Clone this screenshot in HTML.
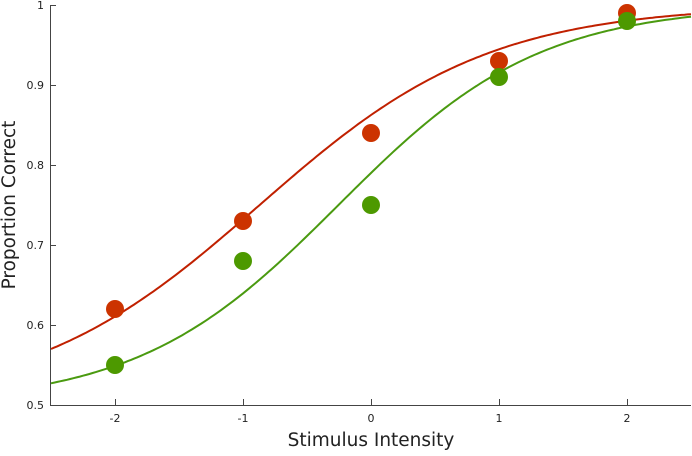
<!DOCTYPE html>
<html><head><meta charset="utf-8"><style>
html,body{margin:0;padding:0;background:#fff;}
svg text{font-family:"DejaVu Sans","Liberation Sans",sans-serif;fill:#222;}
</style></head><body>
<svg id="s" width="692" height="451" xmlns="http://www.w3.org/2000/svg">
<g stroke="#444" stroke-width="1" fill="none">
<line x1="50.5" y1="5" x2="50.5" y2="405.5"/>
<line x1="50" y1="405.5" x2="691" y2="405.5"/>
<line x1="50" y1="5.5" x2="56" y2="5.5"/>
<line x1="50" y1="85.5" x2="56" y2="85.5"/>
<line x1="50" y1="165.5" x2="56" y2="165.5"/>
<line x1="50" y1="245.5" x2="56" y2="245.5"/>
<line x1="50" y1="325.5" x2="56" y2="325.5"/>
<line x1="115.5" y1="405" x2="115.5" y2="399"/>
<line x1="243.5" y1="405" x2="243.5" y2="399"/>
<line x1="371.5" y1="405" x2="371.5" y2="399"/>
<line x1="499.5" y1="405" x2="499.5" y2="399"/>
<line x1="627.5" y1="405" x2="627.5" y2="399"/>
</g>
<g font-size="11" text-anchor="end">
<text x="44" y="9">1</text>
<text x="44" y="89">0.9</text>
<text x="44" y="169">0.8</text>
<text x="44" y="249">0.7</text>
<text x="44" y="329">0.6</text>
<text x="44" y="409">0.5</text>
</g>
<g font-size="11" text-anchor="middle">
<text x="115" y="422">-2</text>
<text x="243" y="422">-1</text>
<text x="371" y="422">0</text>
<text x="499" y="422">1</text>
<text x="627" y="422">2</text>
</g>
<text x="371" y="446" font-size="18.5" text-anchor="middle">Stimulus Intensity</text>
<text x="15" y="205" font-size="18.5" text-anchor="middle" transform="rotate(-90 15 205)">Proportion Correct</text>
<path id="rc" fill="none" stroke="#c02000" stroke-width="2"/>
<path id="gc" fill="none" stroke="#4a9a10" stroke-width="2"/>
<g id="pts"></g>
</svg>
<script>
function X(v){return 371+128*v;}function Y(p){return 405-800*(p-0.5);}
function curve(a,b){var d="";for(var i=0;i<=200;i++){var x=-2.5+5*i/200;var p=0.5+0.5/(1+Math.exp(-(x-a)/b));d+=(i?"L":"M")+X(x).toFixed(1)+","+Y(p).toFixed(1);}return d;}
document.getElementById("rc").setAttribute("d",curve(-0.87,0.898));
document.getElementById("gc").setAttribute("d",curve(-0.254,0.786));
var g=document.getElementById("pts"),ns="http://www.w3.org/2000/svg";
function dots(arr,c){arr.forEach(function(p,i){var e=document.createElementNS(ns,"circle");e.setAttribute("cx",X(i-2));e.setAttribute("cy",Y(p));e.setAttribute("r",9);e.setAttribute("fill",c);g.appendChild(e);});}
dots([0.62,0.73,0.84,0.93,0.99],"#cc3300");
dots([0.55,0.68,0.75,0.91,0.98],"#4d9900");
</script>
</body></html>
